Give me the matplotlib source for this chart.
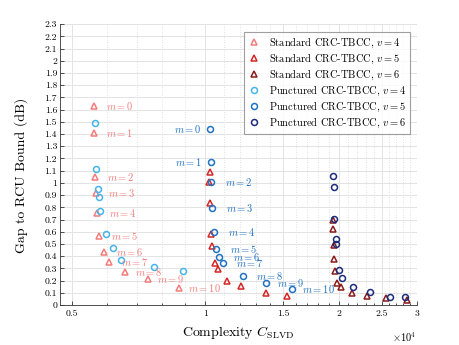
import matplotlib
matplotlib.use("Agg")
import matplotlib.pyplot as plt
from matplotlib.ticker import FixedLocator, MultipleLocator, NullFormatter
import numpy as np

plt.rcParams['font.family'] = 'serif'
plt.rcParams['font.serif'] = ['cmr10', 'DejaVu Serif']
plt.rcParams['mathtext.fontset'] = 'cm'
plt.rcParams['axes.formatter.use_mathtext'] = True

# ---------------- data (complexity, gap in dB), index = m ----------------
std4_x = [5600, 5600, 5630, 5660, 5700, 5750, 5910, 6070, 6580, 7420, 8750]
std4_y = [1.63, 1.41, 1.05, 0.92, 0.755, 0.565, 0.436, 0.354, 0.267, 0.213, 0.142]

punc4_x = [5630, 5680, 5720, 5750, 5800, 5975, 6195, 6470, 7650, 8890]
punc4_y = [1.49, 1.11, 0.947, 0.881, 0.769, 0.578, 0.469, 0.368, 0.314, 0.281]

std5_x = [10260, 10220, 10260, 10320, 10350, 10500, 10660, 11190, 12060, 13730, 15290]
std5_y = [1.09, 1.009, 0.837, 0.581, 0.483, 0.341, 0.292, 0.199, 0.155, 0.101, 0.074]

punc5_x = [10260, 10300, 10300, 10350, 10460, 10590, 10770, 10960, 12200, 13730, 15690]
punc5_y = [1.44, 1.168, 1.009, 0.791, 0.60, 0.461, 0.395, 0.346, 0.237, 0.183, 0.131]

std6_x = [19460, 19460, 19530, 19560, 19630, 19870, 20220, 21420, 23220, 25590, 28480]
std6_y = [0.696, 0.622, 0.491, 0.376, 0.278, 0.183, 0.145, 0.096, 0.074, 0.055, 0.041]

punc6_x = [19460, 19530, 19530, 19700, 19700, 20050, 20330, 21590, 23550, 26120, 28240]
punc6_y = [1.058, 0.963, 0.701, 0.54, 0.499, 0.286, 0.218, 0.15, 0.109, 0.068, 0.068]

xtick_vals = [5000, 10000, 15000, 20000, 25000, 30000]
xtick_labels = ['0.5', '1', '1.5', '2', '2.5', '3']

c_s4, c_s5, c_s6 = '#f27c7c', '#d42626', '#8a1a1a'
c_p4, c_p5, c_p6 = '#45b5e8', '#1f72c4', '#1d2b7c'

fig = plt.figure(figsize=(4.6, 3.45), dpi=100)
ax = fig.add_axes([0.130, 0.116, 0.776, 0.814])

ms = 4.3
mew = 1.1
ax.plot(std4_x, std4_y, '^', ms=ms, mew=mew, mfc='none', color=c_s4, label=r'Standard CRC-TBCC, $v = 4$', zorder=3)
ax.plot(std5_x, std5_y, '^', ms=ms, mew=mew, mfc='none', color=c_s5, label=r'Standard CRC-TBCC, $v = 5$', zorder=3)
ax.plot(std6_x, std6_y, '^', ms=ms, mew=mew, mfc='none', color=c_s6, label=r'Standard CRC-TBCC, $v = 6$', zorder=3)
ax.plot(punc4_x, punc4_y, 'o', ms=ms, mew=mew, mfc='none', color=c_p4, label=r'Punctured CRC-TBCC, $v = 4$', zorder=3)
ax.plot(punc5_x, punc5_y, 'o', ms=ms, mew=mew, mfc='none', color=c_p5, label=r'Punctured CRC-TBCC, $v = 5$', zorder=3)
ax.plot(punc6_x, punc6_y, 'o', ms=ms, mew=mew, mfc='none', color=c_p6, label=r'Punctured CRC-TBCC, $v = 6$', zorder=3)

# m labels
for m, (x, y) in enumerate(zip(std4_x, std4_y)):
    ax.text(x + 380, y, r'$m = %d$' % m, color=c_s4, fontsize=7.5, ha='left', va='center')
for m, (x, y) in enumerate(zip(punc5_x, punc5_y)):
    if m < 2:
        ax.text(x - 450, y, r'$m = %d$' % m, color=c_p5, fontsize=7.5, ha='right', va='center')
    else:
        ax.text(x + 800, y, r'$m = %d$' % m, color=c_p5, fontsize=7.5, ha='left', va='center')

ax.set_xscale('log')
ax.set_xlim(4700, 30000)
ax.set_ylim(0, 2.3)
ax.xaxis.set_major_locator(FixedLocator(xtick_vals))
ax.set_xticklabels(xtick_labels)
ax.xaxis.set_minor_locator(MultipleLocator(1000))
ax.xaxis.set_minor_formatter(NullFormatter())
ax.set_yticks(np.arange(0, 2.31, 0.1))
ax.set_yticklabels(['0' if abs(v) < 1e-9 else ('%g' % round(v, 1)) for v in np.arange(0, 2.31, 0.1)])

ax.tick_params(axis='both', which='both', direction='in', labelsize=7, width=0.6, color='#333333')
ax.tick_params(axis='both', which='major', length=3)
ax.tick_params(axis='x', which='minor', length=1.8)
ax.tick_params(axis='y', which='major', pad=2)

ax.grid(True, which='major', color='#e3e3e3', lw=0.7, ls='-')
ax.grid(True, which='minor', axis='x', color='#d8d8d8', lw=0.6, ls=(0, (1, 2)))
ax.set_axisbelow(True)
for s in ['top', 'right']:
    ax.spines[s].set_visible(False)
for s in ['left', 'bottom']:
    ax.spines[s].set_linewidth(0.6)
    ax.spines[s].set_color('#333333')

ax.set_xlabel(r'Complexity $C_{\mathrm{SLVD}}$', fontsize=10, labelpad=4)
ax.set_ylabel('Gap to RCU Bound (dB)', fontsize=10)
ax.yaxis.set_label_coords(-0.09, 0.46)
ax.text(1.0, -0.115, r'$\times 10^{4}$', transform=ax.transAxes, ha='right', va='center', fontsize=7.5)

leg = ax.legend(loc='upper right', bbox_to_anchor=(0.981, 0.971), fontsize=7.5, frameon=True,
                fancybox=False, edgecolor='#888888', handlelength=1.2, handletextpad=0.8,
                borderpad=0.4, labelspacing=0.25, borderaxespad=0)
leg.get_frame().set_linewidth(0.8)

fig.savefig('out.png', dpi=100)
